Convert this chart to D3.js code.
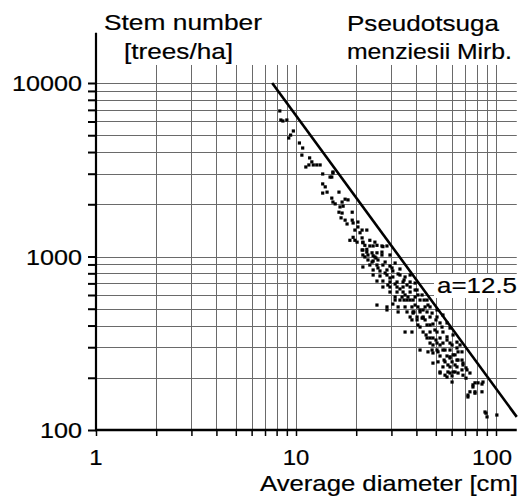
<!DOCTYPE html>
<html>
<head>
<meta charset="utf-8">
<script src="https://cdn.jsdelivr.net/npm/d3@7.9.0/dist/d3.min.js"></script>
<style>
  html, body { margin: 0; padding: 0; background: #fff; }
  svg { display: block; }
  text { font-family: "Liberation Sans", Arial, sans-serif; fill: #000; stroke: #000; stroke-width: 0.2px; }
</style>
</head>
<body>
<svg id="chart" width="523" height="501"></svg>
<script>
// stand data: [average diameter cm, stems per ha]
const stands = [
  [8.3,6900],[8.4,6120],[8.6,6040],[9.0,6120],[9.7,5290],[9.4,5010],[9.2,4820],[10.4,4510],
  [10.8,4220],[10.7,3840],[11.7,3700],[12.0,3510],[11.2,3280],[11.6,3370],[12.2,3370],[12.7,3370],
  [13.2,3370],[13.6,2990],[14.8,2870],[15.3,3030],[15.1,2870],[15.3,3070],[13.6,2620],[14.0,2520],
  [13.6,2320],[14.3,2350],[16.4,2350],[15.1,2170],[15.3,2060],[15.7,2010],[17.0,2060],[17.6,2140],
  [18.2,2120],[16.6,1930],[17.2,1950],[16.4,1800],[17.0,1780],[19.1,1800],[16.8,1670],[17.6,1620],
  [19.1,1620],[18.0,1540],[19.3,1560],[20.4,1580],[20.4,1480],[19.7,1420],[21.4,1420],[22.6,1420],
  [20.9,1370],[19.3,1290],[18.6,1240],[19.7,1240],[21.4,1280],[21.6,1210],[23.4,1240],[24.8,1210],
  [22.1,1160],[23.4,1150],[25.4,1160],[26.9,1150],[28.5,1150],[21.6,1090],[22.6,1060],[24.0,1050],
  [25.4,1050],[26.9,1060],[22.1,994],[24.8,994],[20.2,1210],[21.6,1200],[24.3,1150],[27.2,1140],
  [21.4,1090],[22.6,1100],[21.6,1020],[24.3,1010],[26.9,1020],[22.9,955],[24.3,942],[25.7,955],
  [29.5,1020],[23.4,893],[25.4,893],[27.2,893],[29.5,881],[31.3,917],[21.6,870],[24.3,836],
  [26.3,825],[28.5,836],[30.5,825],[33.1,847],[24.3,782],[26.3,772],[28.5,782],[30.5,762],
  [33.1,782],[35.1,762],[25.4,722],[27.2,722],[29.5,713],[32.0,713],[34.3,713],[37.2,713],
  [27.2,667],[29.5,667],[32.0,667],[34.3,667],[37.2,667],[39.4,703],[29.5,624],[32.0,624],
  [34.3,624],[37.2,624],[40.3,641],[31.3,584],[33.9,584],[36.3,584],[39.4,584],[42.7,600],
  [33.1,561],[35.9,561],[38.5,561],[41.7,561],[45.2,561],[25.4,525],[32.4,512],[35.1,512],
  [38.0,512],[40.7,512],[44.2,512],[28.5,492],[35.9,479],[38.5,479],[41.7,479],[45.2,479],
  [32.4,479],[37.2,448],[40.3,448],[43.2,448],[28.5,512],[30.5,532],[35.1,367],[38.0,367],
  [41.7,289],[45.7,282],[47.9,289],[38.5,472],[43.2,492],[46.8,512],[50.7,492],[40.3,431],
  [43.2,442],[46.8,448],[50.7,448],[54.3,460],[41.7,392],[45.2,403],[48.4,408],[52.5,414],
  [56.9,414],[58.9,387],[43.2,367],[46.8,367],[50.7,367],[54.3,367],[45.2,339],[48.4,339],
  [52.5,339],[56.9,344],[61.0,353],[46.8,317],[50.7,317],[54.3,317],[58.9,317],[63.8,321],
  [50.7,289],[54.3,289],[58.9,289],[63.8,297],[48.4,278],[52.5,267],[56.9,267],[61.0,271],
  [67.6,282],[51.3,247],[55.6,247],[60.3,247],[64.6,253],[54.3,231],[58.9,231],[63.8,231],
  [68.4,237],[52.5,216],[57.5,216],[62.4,216],[67.6,222],[60.3,205],[56.9,202],[48.4,243],
  [52.5,213],[55.6,207],[58.9,213],[61.0,216],[64.6,213],[68.4,207],[71.6,222],[74.1,213],
  [60.3,189],[78.5,187],[81.3,187],[76.7,177],[86.1,189],[74.1,166],[72.4,155],[78.5,166],
  [85.1,166],[88.1,127],[90.2,119],[101,122],[58.9,264],[63.8,253],[68.4,243],[76.7,182],
  [85.1,184],[72.4,159],[78.5,163],[89.1,125],
  // denser core of the cloud
  [25.7,859],[27.9,803],[29.5,752],[31.3,694],[33.1,650],[35.1,600],[37.2,561],[39.4,525],
  [41.7,492],[44.2,431],[46.8,403],[49.5,377],[52.5,309],[55.6,289],[58.9,260],[62.4,237],
  [27.9,929],[30.2,859],[32.4,793],[34.7,732],[37.2,782],[39.4,641],[35.9,685],[40.7,600],
  [43.7,561],[45.7,525],[47.9,472],[50.1,431],[53.7,392],[56.9,330],[60.3,309],[64.6,282],
  [67.6,253],[70.8,228],[42.7,442],[38.0,431],[40.7,403],[44.7,353],[48.4,309],[51.3,282],
  [55.0,253],[57.5,237],[31.3,561],[24.0,929],[22.9,1020],[25.1,980],[28.8,685],[34.7,561],
  [38.9,479],[46.8,339],[50.1,330],[62.4,271],[66.1,309],[70.8,199]
];

// self-thinning limit line, end points
const limitLine = [[7.6, 10000], [127, 119]];

const xTicks = [1,2,3,4,5,6,7,8,9,10,20,30,40,50,60,70,80,90,100];
const yTicks = [100,200,300,400,500,600,700,800,900,1000,2000,3000,4000,5000,6000,7000,8000,9000,10000];
const xLabels = [1, 10, 100];
const yLabels = [100, 1000, 10000];
const xAxisEnd = 127;     // right end of the x axis
const yAxisEnd = 19500;   // top of the y axis
const gridTop = 12700;    // vertical grid lines stop here

const svg = d3.select('#chart');

const x = d3.scaleLog().domain([1, 100]).range([96, 496]);
const y = d3.scaleLog().domain([100, 10000]).range([430, 83]);

// grid
const grid = svg.append('g').attr('stroke', '#6a6a6a').attr('stroke-width', 1);
grid.selectAll('line.v')
  .data(xTicks.slice(1))
  .join('line')
  .attr('class', 'v')
  .attr('x1', d => Math.round(x(d)) + 0.5)
  .attr('x2', d => Math.round(x(d)) + 0.5)
  .attr('y1', y(gridTop))
  .attr('y2', y(100));
grid.selectAll('line.h')
  .data(yTicks.slice(1))
  .join('line')
  .attr('class', 'h')
  .attr('x1', x(1))
  .attr('x2', x(xAxisEnd))
  .attr('y1', d => Math.round(y(d)) + 0.5)
  .attr('y2', d => Math.round(y(d)) + 0.5);

// axes
const yAxis = d3.axisLeft(y)
  .tickValues(yTicks)
  .tickFormat('')
  .tickSizeInner(8)
  .tickSizeOuter(0);
const yg = svg.append('g').attr('transform', `translate(${x(1)},0)`).call(yAxis);
yg.select('.domain').remove();
yg.selectAll('.tick line').attr('stroke', '#000').attr('stroke-width', 2);

const xAxis = d3.axisBottom(x)
  .tickValues(xTicks)
  .tickFormat('')
  .tickSizeInner(6)
  .tickSizeOuter(0);
const xg = svg.append('g').attr('transform', `translate(0,${y(100)})`).call(xAxis);
xg.select('.domain').remove();
xg.selectAll('.tick line').attr('stroke', '#000').attr('stroke-width', 1.5);

svg.append('line')
  .attr('x1', x(1)).attr('x2', x(1))
  .attr('y1', y(yAxisEnd)).attr('y2', y(100) + 1)
  .attr('stroke', '#000').attr('stroke-width', 2.2);
svg.append('line')
  .attr('x1', x(1) - 1).attr('x2', x(xAxisEnd))
  .attr('y1', y(100)).attr('y2', y(100))
  .attr('stroke', '#000').attr('stroke-width', 2.4);

// tick labels
const digitW = 14;
svg.append('g').selectAll('text')
  .data(yLabels)
  .join('text')
  .attr('x', 82)
  .attr('y', d => y(d) + 8)
  .attr('text-anchor', 'end')
  .attr('font-size', 22)
  .attr('textLength', d => String(d).length * digitW)
  .attr('lengthAdjust', 'spacingAndGlyphs')
  .text(d => d);

svg.append('g').selectAll('text')
  .data(xLabels)
  .join('text')
  .attr('x', d => x(d) - (d === 100 ? 4 : 0))
  .attr('y', 465)
  .attr('text-anchor', 'middle')
  .attr('font-size', 22)
  .attr('textLength', d => String(d).length * 13.3)
  .attr('lengthAdjust', 'spacingAndGlyphs')
  .text(d => d);

// points
svg.append('g').selectAll('rect')
  .data(stands)
  .join('rect')
  .attr('x', d => x(d[0]) - 1.6)
  .attr('y', d => y(d[1]) - 1.6)
  .attr('width', 3.2)
  .attr('height', 3.2)
  .attr('fill', '#000');

// limit line
svg.append('path')
  .datum(limitLine)
  .attr('d', d3.line().x(d => x(d[0])).y(d => y(d[1])))
  .attr('stroke', '#000')
  .attr('stroke-width', 2.6)
  .attr('fill', 'none');

// labels
function label(str, lx, ly, len) {
  return svg.append('text')
    .attr('x', lx).attr('y', ly)
    .attr('font-size', 22)
    .attr('textLength', len)
    .attr('lengthAdjust', 'spacingAndGlyphs')
    .text(str);
}

svg.append('rect')
  .attr('x', 434).attr('y', 274).attr('width', 89).attr('height', 24)
  .attr('fill', '#fff');
label('a=12.5', 437, 293, 80);

label('Stem number', 104, 30, 158);
label('[trees/ha]', 124, 59, 109);
label('Pseudotsuga', 347, 31, 152);
label('menziesii Mirb.', 347, 59, 165);
label('Average diameter [cm]', 260, 491, 258);
</script>
</body>
</html>
